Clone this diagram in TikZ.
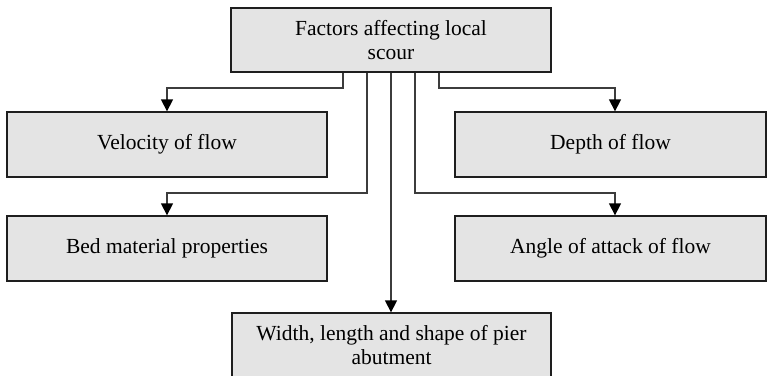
\documentclass[tikz,border=0pt]{standalone}
\usepackage{fontspec}
\setmainfont{Liberation Serif}
\usetikzlibrary{arrows.meta}
\definecolor{boxfill}{HTML}{E4E4E4}
\definecolor{boxline}{HTML}{1E1E1E}
\definecolor{wire}{HTML}{3C3C3C}
\begin{document}
\begin{tikzpicture}[x=1pt,y=1pt,
  factor/.style={draw=boxline,fill=boxfill,line width=1.3pt,inner sep=0pt,
    minimum height=65pt,align=center,
    font=\fontsize{21.5}{24}\selectfont},
  link/.style={draw=wire,line width=1.3pt},
  arr/.style={link,-{Triangle[length=12pt,width=12pt,color=black]}}]
\useasboundingbox (0,0) rectangle (767,-375);

% root and the five influencing factors
\node[factor,minimum width=320pt,minimum height=64pt] (root) at (391,-40)
  {Factors affecting local\\scour};
\node[factor,minimum width=320pt] (vel) at (167,-144.5) {Velocity of flow};
\node[factor,minimum width=311pt] (depth) at (610.5,-144.5) {Depth of flow};
\node[factor,minimum width=320pt] (bed) at (167,-248.5) {Bed material properties};
\node[factor,minimum width=311pt] (angle) at (610.5,-248.5) {Angle of attack of flow};
\node[factor,minimum width=319pt] (pier) at (391.5,-345.5)
  {Width, length and shape of pier\\abutment};

% landing points on the right-hand boxes
\coordinate (dtop) at ([xshift=4.5pt]depth.north);
\coordinate (atop) at ([xshift=4.5pt]angle.north);

% elbow connectors leaving the bottom of the root box
\coordinate (k1) at (0,-88);
\coordinate (k2) at (0,-193);
\draw[arr] ([xshift=-48pt]root.south) |- (k1 -| vel.north) -- (vel.north);
\draw[arr] ([xshift=48pt]root.south) |- (k1 -| dtop) -- (dtop);
\draw[arr] ([xshift=-24pt]root.south) |- (k2 -| bed.north) -- (bed.north);
\draw[arr] ([xshift=24pt]root.south) |- (k2 -| atop) -- (atop);
\draw[arr] (root.south) -- (root.south |- pier.north);
\end{tikzpicture}
\end{document}
